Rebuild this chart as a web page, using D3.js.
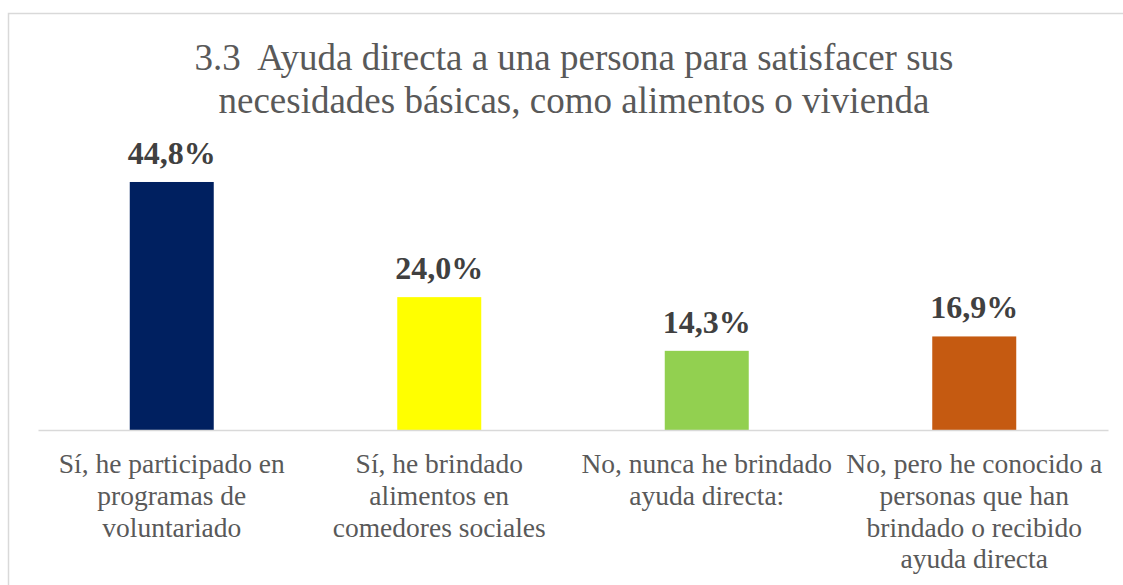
<!DOCTYPE html>
<html>
<head>
<meta charset="utf-8">
<script src="https://cdn.jsdelivr.net/npm/d3@7"></script>
<style>
  html, body { margin: 0; padding: 0; background: #fff; }
  svg { display: block; }
</style>
</head>
<body>
<svg id="chart" width="1123" height="585"></svg>
<script>
const titleLines = ["3.3  Ayuda directa a una persona para satisfacer sus", "necesidades básicas, como alimentos o vivienda"];
const categories = [
  "Sí, he participado en\nprogramas de\nvoluntariado",
  "Sí, he brindado\nalimentos en\ncomedores sociales",
  "No, nunca he brindado\nayuda directa:",
  "No, pero he conocido a\npersonas que han\nbrindado o recibido\nayuda directa"
];
const values = [44.8, 24.0, 14.3, 16.9];
const valueLabels = ["44,8%", "24,0%", "14,3%", "16,9%"];
const colors = ["#002060", "#FFFF00", "#92D050", "#C55A11"];

const svg = d3.select("#chart");
const W = 1123, H = 585;
const plotBottom = 430;
const FONT = "'Liberation Serif', 'Times New Roman', serif";

// outer border
svg.append("rect")
  .attr("x", 8.5).attr("y", 13.5)
  .attr("width", W + 10).attr("height", H + 10)
  .attr("fill", "#fff").attr("stroke", "#d9d9d9").attr("stroke-width", 1.5);

const x = d3.scaleBand().domain(categories).range([38, 1108]).paddingInner(0.686).paddingOuter(0.343);
const y = d3.scaleLinear().domain([0, 50]).range([plotBottom, plotBottom - 50 * 5.536]);

// title
const title = svg.append("text")
  .attr("text-anchor", "middle")
  .attr("font-family", FONT)
  .attr("font-size", 37)
  .attr("fill", "#595959")
  .style("white-space", "pre");
titleLines.forEach((t, i) => {
  title.append("tspan").attr("x", 574).attr("y", 70 + i * 43).text(t);
});

// bars
svg.selectAll("rect.bar").data(values).join("rect")
  .attr("class", "bar")
  .attr("x", (d, i) => x(categories[i]))
  .attr("y", d => y(d))
  .attr("width", x.bandwidth())
  .attr("height", d => y(0) - y(d))
  .attr("fill", (d, i) => colors[i]);

// axis
const axis = d3.axisBottom(x).tickSize(0).tickFormat("");
const gAxis = svg.append("g").attr("transform", `translate(0,${plotBottom})`).call(axis);
gAxis.select(".domain").attr("stroke", "#d9d9d9").attr("stroke-width", 1.5);

// value labels
svg.selectAll("text.val").data(values).join("text")
  .attr("class", "val")
  .attr("x", (d, i) => x(categories[i]) + x.bandwidth() / 2)
  .attr("y", d => y(d) - 18)
  .attr("text-anchor", "middle")
  .attr("font-family", FONT)
  .attr("font-weight", "bold")
  .attr("font-size", 32)
  .attr("fill", "#404040")
  .text((d, i) => valueLabels[i]);

// category labels
categories.forEach(c => {
  const t = svg.append("text")
    .attr("text-anchor", "middle")
    .attr("font-family", FONT)
    .attr("font-size", 27.5)
    .attr("fill", "#595959");
  c.split("\n").forEach((line, j) => {
    t.append("tspan").attr("x", x(c) + x.bandwidth() / 2).attr("y", 473 + j * 31.8).text(line);
  });
});
</script>
</body>
</html>
